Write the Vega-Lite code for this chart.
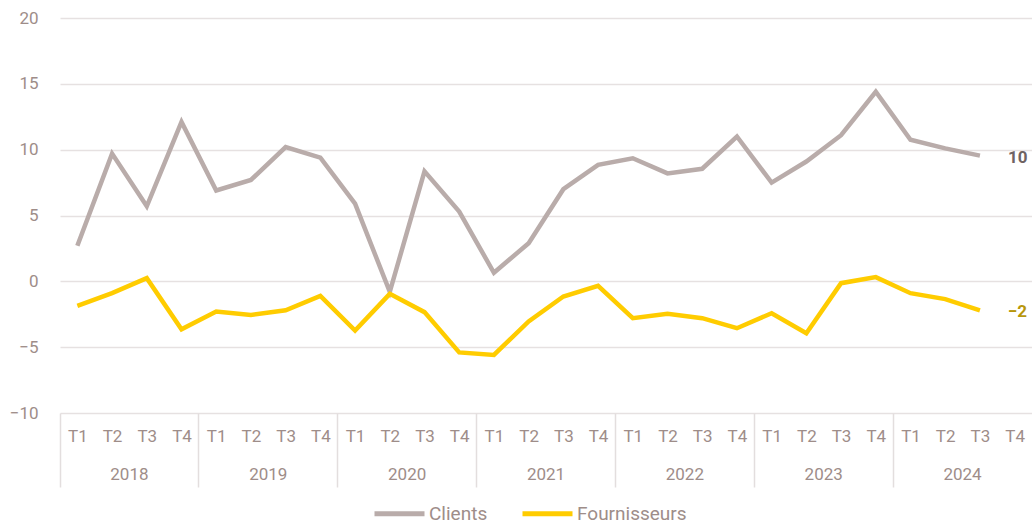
{
  "$schema": "https://vega.github.io/schema/vega-lite/v6.json",
  "autosize": "none",
  "width": 972,
  "height": 395,
  "padding": {"left": 60, "top": 18, "right": 0, "bottom": 109},
  "background": "#ffffff",
  "config": {
    "view": {"stroke": null},
    "font": "Roboto",
    "axis": {"labelFont": "Roboto", "labelFontSize": 17, "labelColor": "#9e8d89"},
    "legend": {"labelFont": "Roboto", "labelFontSize": 19, "labelColor": "#9e8d89"}
  },
  "data": {
    "values": [
      {"key": "2018-T1", "year": "2018", "series": "Clients", "value": 2.7},
      {"key": "2018-T2", "year": "2018", "series": "Clients", "value": 9.7},
      {"key": "2018-T3", "year": "2018", "series": "Clients", "value": 5.7},
      {"key": "2018-T4", "year": "2018", "series": "Clients", "value": 12.1},
      {"key": "2019-T1", "year": "2019", "series": "Clients", "value": 6.9},
      {"key": "2019-T2", "year": "2019", "series": "Clients", "value": 7.7},
      {"key": "2019-T3", "year": "2019", "series": "Clients", "value": 10.2},
      {"key": "2019-T4", "year": "2019", "series": "Clients", "value": 9.4},
      {"key": "2020-T1", "year": "2020", "series": "Clients", "value": 5.9},
      {"key": "2020-T2", "year": "2020", "series": "Clients", "value": -0.8},
      {"key": "2020-T3", "year": "2020", "series": "Clients", "value": 8.35},
      {"key": "2020-T4", "year": "2020", "series": "Clients", "value": 5.3},
      {"key": "2021-T1", "year": "2021", "series": "Clients", "value": 0.65},
      {"key": "2021-T2", "year": "2021", "series": "Clients", "value": 2.9},
      {"key": "2021-T3", "year": "2021", "series": "Clients", "value": 7.0},
      {"key": "2021-T4", "year": "2021", "series": "Clients", "value": 8.85},
      {"key": "2022-T1", "year": "2022", "series": "Clients", "value": 9.35},
      {"key": "2022-T2", "year": "2022", "series": "Clients", "value": 8.2},
      {"key": "2022-T3", "year": "2022", "series": "Clients", "value": 8.55},
      {"key": "2022-T4", "year": "2022", "series": "Clients", "value": 11.0},
      {"key": "2023-T1", "year": "2023", "series": "Clients", "value": 7.5},
      {"key": "2023-T2", "year": "2023", "series": "Clients", "value": 9.1},
      {"key": "2023-T3", "year": "2023", "series": "Clients", "value": 11.1},
      {"key": "2023-T4", "year": "2023", "series": "Clients", "value": 14.4},
      {"key": "2024-T1", "year": "2024", "series": "Clients", "value": 10.75},
      {"key": "2024-T2", "year": "2024", "series": "Clients", "value": 10.1},
      {"key": "2024-T3", "year": "2024", "series": "Clients", "value": 9.55},
      {"key": "2018-T1", "year": "2018", "series": "Fournisseurs", "value": -1.86},
      {"key": "2018-T2", "year": "2018", "series": "Fournisseurs", "value": -0.9},
      {"key": "2018-T3", "year": "2018", "series": "Fournisseurs", "value": 0.24},
      {"key": "2018-T4", "year": "2018", "series": "Fournisseurs", "value": -3.64},
      {"key": "2019-T1", "year": "2019", "series": "Fournisseurs", "value": -2.3},
      {"key": "2019-T2", "year": "2019", "series": "Fournisseurs", "value": -2.55},
      {"key": "2019-T3", "year": "2019", "series": "Fournisseurs", "value": -2.2},
      {"key": "2019-T4", "year": "2019", "series": "Fournisseurs", "value": -1.1},
      {"key": "2020-T1", "year": "2020", "series": "Fournisseurs", "value": -3.74},
      {"key": "2020-T2", "year": "2020", "series": "Fournisseurs", "value": -0.95},
      {"key": "2020-T3", "year": "2020", "series": "Fournisseurs", "value": -2.34},
      {"key": "2020-T4", "year": "2020", "series": "Fournisseurs", "value": -5.4},
      {"key": "2021-T1", "year": "2021", "series": "Fournisseurs", "value": -5.59},
      {"key": "2021-T2", "year": "2021", "series": "Fournisseurs", "value": -3.05},
      {"key": "2021-T3", "year": "2021", "series": "Fournisseurs", "value": -1.15},
      {"key": "2021-T4", "year": "2021", "series": "Fournisseurs", "value": -0.34},
      {"key": "2022-T1", "year": "2022", "series": "Fournisseurs", "value": -2.8},
      {"key": "2022-T2", "year": "2022", "series": "Fournisseurs", "value": -2.47},
      {"key": "2022-T3", "year": "2022", "series": "Fournisseurs", "value": -2.8},
      {"key": "2022-T4", "year": "2022", "series": "Fournisseurs", "value": -3.56},
      {"key": "2023-T1", "year": "2023", "series": "Fournisseurs", "value": -2.42},
      {"key": "2023-T2", "year": "2023", "series": "Fournisseurs", "value": -3.94},
      {"key": "2023-T3", "year": "2023", "series": "Fournisseurs", "value": -0.14},
      {"key": "2023-T4", "year": "2023", "series": "Fournisseurs", "value": 0.32},
      {"key": "2024-T1", "year": "2024", "series": "Fournisseurs", "value": -0.9},
      {"key": "2024-T2", "year": "2024", "series": "Fournisseurs", "value": -1.35},
      {"key": "2024-T3", "year": "2024", "series": "Fournisseurs", "value": -2.2}
    ]
  },
  "layer": [
    {
      "mark": {"type": "tick", "opacity": 0},
      "encoding": {
        "x": {
          "field": "year", "type": "ordinal",
          "scale": {"domain": ["2018","2019","2020","2021","2022","2023","2024"], "paddingInner": 0, "paddingOuter": 0},
          "axis": {"title": null, "orient": "bottom", "domain": false, "grid": false, "ticks": true, "bandPosition": 0, "tickSize": 74, "tickColor": "#e3dede", "tickWidth": 1.5, "labelAngle": 0, "labelPadding": -21, "labelAlign": "center"}
        }
      }
    },
    {
      "layer": [
        {
          "mark": {"type": "line", "strokeWidth": 4.5, "strokeJoin": "miter", "strokeCap": "butt"},
          "encoding": {
            "x": {
              "field": "key", "type": "ordinal",
              "scale": {"type": "point", "padding": 0.5, "domain": ["2018-T1","2018-T2","2018-T3","2018-T4","2019-T1","2019-T2","2019-T3","2019-T4","2020-T1","2020-T2","2020-T3","2020-T4","2021-T1","2021-T2","2021-T3","2021-T4","2022-T1","2022-T2","2022-T3","2022-T4","2023-T1","2023-T2","2023-T3","2023-T4","2024-T1","2024-T2","2024-T3","2024-T4"]},
              "axis": {"title": null, "orient": "bottom", "domain": false, "grid": false, "ticks": false, "labelAngle": 0, "labelPadding": 15, "labelExpr": "substring(datum.label, 5)"}
            },
            "y": {
              "field": "value", "type": "quantitative",
              "scale": {"domain": [-10, 20]},
              "axis": {"title": null, "values": [-10, -5, 0, 5, 10, 15, 20], "domain": false, "ticks": false, "labelPadding": 22, "gridColor": "#e6e1e1", "gridWidth": 1.5}
            },
            "color": {
              "field": "series", "type": "nominal",
              "scale": {"domain": ["Clients", "Fournisseurs"], "range": ["#b9acaa", "#ffcc00"]},
              "legend": {"title": null, "orient": "none", "direction": "horizontal", "legendX": 312, "legendY": 468, "symbolType": "stroke", "symbolStrokeWidth": 5, "symbolSize": 2500, "labelOffset": 2, "columnPadding": 24}
            }
          }
        },
        {
          "transform": [{"filter": "datum.key === '2024-T3'"}],
          "mark": {"type": "text", "align": "left", "dx": 28, "dy": 2, "fontSize": 17, "fontWeight": "bold", "font": "Roboto"},
          "encoding": {
            "x": {"field": "key", "type": "ordinal"},
            "y": {"field": "value", "type": "quantitative"},
            "text": {"field": "value", "type": "quantitative", "format": ".0f"},
            "color": {"condition": {"test": "datum.series === 'Clients'", "value": "#6f6363"}, "value": "#b8970c"}
          }
        }
      ]
    }
  ],
  "resolve": {"scale": {"x": "independent"}, "axis": {"x": "independent"}}
}
